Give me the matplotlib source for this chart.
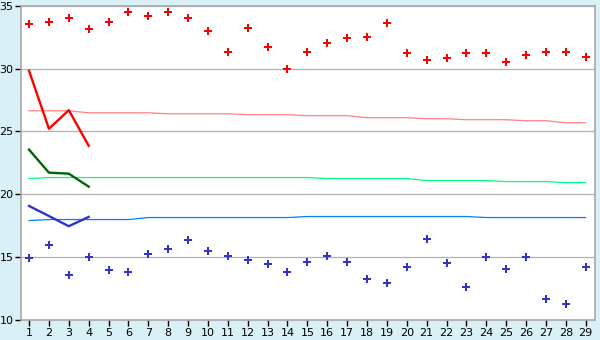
import matplotlib
matplotlib.use("Agg")
from matplotlib import pyplot as plt

days = list(range(1, 30))

# scatter points
red_pts = [33.55, 33.7, 34.05, 33.15, 33.7, 34.5, 34.18, 34.5, 34.05,
           32.99, 31.32, 33.23, 31.72, 29.97, 31.32, 32.04, 32.43, 32.5, 33.62,
           31.24, 30.69, 30.85, 31.24, 31.24, 30.53, 31.08, 31.32, 31.32, 30.92]
blue_pts = [14.9, 15.93, 13.55, 14.98, 13.94, 13.79, 15.21, 15.61, 16.4,
            15.45, 15.13, 14.74, 14.42, 13.79, 14.58, 15.13, 14.58, 13.23, 12.91,
            14.18, 16.48, 14.5, 12.6, 14.98, 14.02, 14.98, 11.64, 11.25, 14.18]

# thick lines, first four days
short_days = [1, 2, 3, 4]
red_line = [29.82, 25.21, 26.69, 23.86]
green_line = [23.55, 21.72, 21.64, 20.61]
blue_line = [19.07, 18.27, 17.46, 18.2]

# thin lines
pink_thin = [26.64, 26.64, 26.64, 26.48, 26.48, 26.48, 26.48, 26.40, 26.40, 26.40,
             26.40, 26.33, 26.33, 26.33, 26.25, 26.25, 26.25, 26.09, 26.09, 26.09,
             26.01, 26.01, 25.93, 25.93, 25.93, 25.85, 25.85, 25.69, 25.69]
green_thin = [21.25, 21.33, 21.33, 21.33, 21.33, 21.33, 21.33, 21.33, 21.33, 21.33,
              21.33, 21.33, 21.33, 21.33, 21.33, 21.25, 21.25, 21.25, 21.25, 21.25,
              21.09, 21.09, 21.09, 21.09, 21.01, 21.01, 21.01, 20.93, 20.93]
blue_thin = [17.91, 17.99, 17.99, 17.99, 17.99, 17.99, 18.15, 18.15, 18.15, 18.15,
             18.15, 18.15, 18.15, 18.15, 18.23, 18.23, 18.23, 18.23, 18.23, 18.23,
             18.23, 18.23, 18.23, 18.15, 18.15, 18.15, 18.15, 18.15, 18.15]

fig = plt.figure(figsize=(6, 3.4), dpi=100, facecolor="#d9f0f6")
ax = fig.add_axes([20.5 / 600, 20 / 340, 574.5 / 600, 314.3 / 340])
ax.set_facecolor("white")

ax.plot(days, pink_thin, color="#ff8080", lw=0.9)
ax.plot(days, green_thin, color="#00ff80", lw=0.9)
ax.plot(days, blue_thin, color="#0080ff", lw=0.9)

ax.plot(short_days, red_line, color="#ff0000", lw=1.7)
ax.plot(short_days, green_line, color="#006600", lw=1.7)
ax.plot(short_days, blue_line, color="#3333cc", lw=1.7)

ax.plot(days, red_pts, ls="none", marker="P", ms=6, color="#ff0000", mew=0)
ax.plot(days, blue_pts, ls="none", marker="P", ms=6, color="#3333cc", mew=0)

ax.set_xlim(0.57, 29.47)
ax.set_ylim(10, 35)
ax.set_xticks(days)
ax.set_yticks([10, 15, 20, 25, 30, 35])
ax.yaxis.grid(True, color="#b0b0b0", lw=0.9)
ax.set_axisbelow(True)
for s in ax.spines.values():
    s.set_color("#a8a8a8")
    s.set_linewidth(1.2)
ax.tick_params(axis="both", colors="black", labelsize=8, length=4, width=1,
               direction="out", pad=2)
ax.tick_params(axis="y", pad=1)

fig.savefig("out.png", dpi=100, facecolor=fig.get_facecolor())
